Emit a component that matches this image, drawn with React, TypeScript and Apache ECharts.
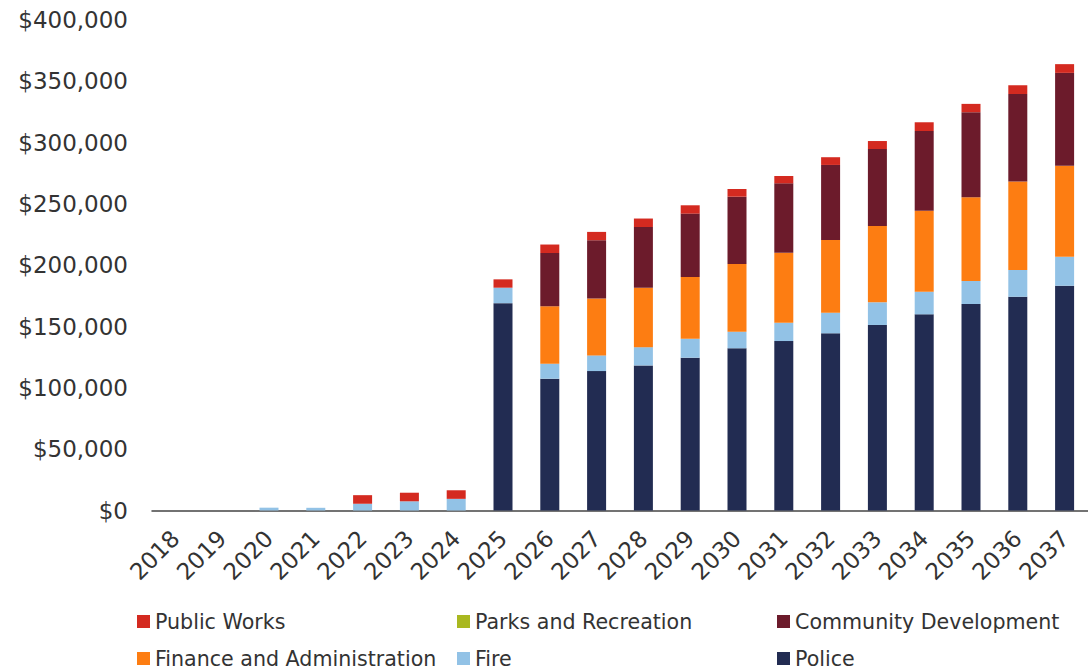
import React, { useEffect, useRef } from "react";
import * as echarts from "echarts";

const years = ["2018","2019","2020","2021","2022","2023","2024","2025","2026","2027","2028","2029","2030","2031","2032","2033","2034","2035","2036","2037"];
const police = [0,0,0,0,0,0,0,169100,107500,113700,118300,124600,132300,138200,144500,151300,160000,168400,174400,183300];
const fire = [0,0,2300,2200,5500,7500,9500,12600,12200,12800,14900,15500,13500,14900,16800,18500,18400,18800,21800,23600];
const finance = [0,0,0,0,0,0,0,0,46800,46300,48500,50300,55200,57100,59300,62200,66100,68300,72000,74200];
const parks = [0,0,0,0,0,0,0,0,0,0,0,0,0,0,0,0,0,0,0,0];
const community = [0,0,0,0,0,0,0,0,43500,47600,49500,51700,54900,56600,61200,62800,65000,69300,71500,75800];
const publicWorks = [0,0,0,0,7000,7000,7000,6800,6900,6800,6900,6800,6300,6000,6300,6500,7100,6800,7100,7100];
const yTicks = { min: 0, max: 400000, interval: 50000 };

const FONT = "DejaVu Sans";

export default function App() {
  const ref = useRef<HTMLDivElement>(null);
  useEffect(() => {
    if (!ref.current) return;
    const chart = echarts.init(ref.current, null, { renderer: "svg" });
    const mk = (name: string, data: number[], color: string) => ({
      name,
      type: "bar",
      stack: "total",
      data,
      barWidth: 19,
      itemStyle: { color },
      emphasis: { disabled: true },
    });
    const lg = (name: string, left: number, top: number) => ({
      orient: "horizontal",
      icon: "rect",
      itemWidth: 13,
      itemHeight: 13,
      textStyle: { fontFamily: FONT, fontSize: 20.6, color: "#333" },
      selectedMode: false,
      left,
      top,
      data: [name],
    });
    chart.setOption({
      animation: false,
      grid: { left: 152, top: 20, width: 944, height: 490.5 },
      legend: [
        lg("Public Works", 132, 606),
        lg("Finance and Administration", 132, 643),
        lg("Parks and Recreation", 452, 606),
        lg("Fire", 452, 643),
        lg("Community Development", 772, 606),
        lg("Police", 772, 643),
      ],
      xAxis: {
        type: "category",
        data: years,
        axisLine: { lineStyle: { color: "#444", width: 1.5 } },
        axisTick: { show: false },
        axisLabel: {
          rotate: 45,
          interval: 0,
          fontFamily: FONT,
          fontSize: 23,
          color: "#333",
          margin: 24,
        },
      },
      yAxis: {
        type: "value",
        min: yTicks.min,
        max: yTicks.max,
        interval: yTicks.interval,
        splitLine: { show: false },
        axisLine: { show: false },
        axisTick: { show: false },
        axisLabel: {
          fontFamily: FONT,
          fontSize: 23,
          color: "#333",
          margin: 24,
          formatter: (v: number) => "$" + v.toLocaleString("en-US"),
        },
      },
      series: [
        mk("Police", police, "#222c52"),
        mk("Fire", fire, "#92c2e6"),
        mk("Finance and Administration", finance, "#fd7d12"),
        mk("Parks and Recreation", parks, "#a9b820"),
        mk("Community Development", community, "#6c1b2b"),
        mk("Public Works", publicWorks, "#d42a20"),
      ],
    });
    return () => chart.dispose();
  }, []);
  return (
    <div
      ref={ref}
      style={{ position: "absolute", left: 0, top: 0, width: 1088, height: 671, overflow: "hidden" }}
    />
  );
}
